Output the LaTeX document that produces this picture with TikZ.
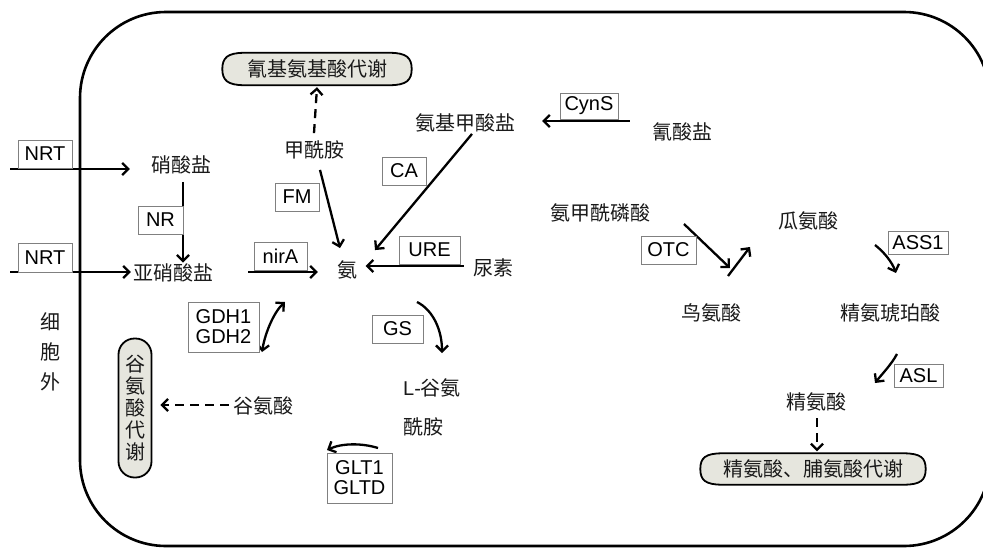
\documentclass[tikz,border=0pt]{standalone}
\usepackage{fontspec}
\setmainfont{Noto Sans CJK SC}
\newfontfamily\lat{Liberation Sans}
\usetikzlibrary{arrows.meta}
\definecolor{pillfill}{HTML}{E6E6DE}
\definecolor{boxline}{HTML}{808080}
\definecolor{txtcol}{HTML}{1A1A1A}
\begin{document}
\begin{tikzpicture}[x=1pt,y=-1pt,
  txt/.style={font=\fontsize{20}{22}\selectfont, inner sep=0pt, text=txtcol},
  enz/.style={draw=boxline, line width=0.9pt, fill=white, inner sep=0pt, align=center,
    font=\lat\fontsize{20}{22}\selectfont},
  pillbox/.style={inner sep=0pt},
  pillline/.style={draw=black, line width=1.8pt, fill=pillfill},
  vpill/.style={rectangle, rounded corners=16pt, draw=black, line width=1.8pt,
    fill=pillfill, inner sep=0pt, align=center, font=\fontsize{20}{22}\selectfont, text=txtcol},
  tip/.tip={Straight Barb[length=6pt,width=12pt]},
  arr/.style={line width=2.3pt, -tip},
  darr/.style={line width=2.3pt, tip-tip},
  dasharr/.style={line width=2.3pt, dash pattern=on 9pt off 6pt, -tip}
]
\useasboundingbox (0,0) rectangle (983,549);
\clip (0,0) rectangle (983,549);
\fill[white] (0,0) rectangle (983,549);

% cell outline
\draw[line width=2.6pt, rounded corners=86pt] (80,12) rectangle (990,546);

% text nodes
\node[txt] (nitrate) at (181,165) {硝酸盐};
\node[txt] (nitrite) at (173,273) {亚硝酸盐};
\node[txt] (amm) at (347,270) {氨};
\node[txt] (formamide) at (314,150) {甲酰胺};
\node[txt] (carbamate) at (465,123) {氨基甲酸盐};
\node[txt] (cyanate) at (682,132) {氰酸盐};
\node[txt] (urea) at (493,268) {尿素};
\node[txt] (glu) at (263,406) {谷氨酸};
\node[txt, align=left, anchor=west, font=\fontsize{20}{39}\selectfont] (gln) at (403,407) {{\lat L-}谷氨\\酰胺};
\node[txt, align=center, font=\fontsize{20}{30}\selectfont] (extra) at (50,352) {细\\胞\\外};
\node[txt] (cp) at (600,213) {氨甲酰磷酸};
\node[txt] (cit) at (808,221) {瓜氨酸};
\node[txt] (orn) at (711,313) {鸟氨酸};
\node[txt] (argsuc) at (890,313) {精氨琥珀酸};
\node[txt] (arg) at (816,402) {精氨酸};

% metabolism pills
\node[pillbox, minimum width=189pt, minimum height=32pt] (cyanM) at (317,69) {};
\path[pillline] (cyanM.west) .. controls ([yshift=11pt]cyanM.west) and ([xshift=5pt]cyanM.north west) .. ([xshift=22pt]cyanM.north west)
  -- ([xshift=-22pt]cyanM.north east) .. controls ([xshift=-5pt]cyanM.north east) and ([yshift=11pt]cyanM.east) .. (cyanM.east)
  .. controls ([yshift=-11pt]cyanM.east) and ([xshift=-5pt]cyanM.south east) .. ([xshift=-22pt]cyanM.south east)
  -- ([xshift=22pt]cyanM.south west) .. controls ([xshift=5pt]cyanM.south west) and ([yshift=-11pt]cyanM.west) .. cycle;
\node[txt] (cyanMt) at (cyanM) {氰基氨基酸代谢};

\node[pillbox, minimum width=225pt, minimum height=31pt] (argM) at (813,469) {};
\path[pillline] (argM.west) .. controls ([yshift=11pt]argM.west) and ([xshift=5pt]argM.north west) .. ([xshift=22pt]argM.north west)
  -- ([xshift=-22pt]argM.north east) .. controls ([xshift=-5pt]argM.north east) and ([yshift=11pt]argM.east) .. (argM.east)
  .. controls ([yshift=-11pt]argM.east) and ([xshift=-5pt]argM.south east) .. ([xshift=-22pt]argM.south east)
  -- ([xshift=22pt]argM.south west) .. controls ([xshift=5pt]argM.south west) and ([yshift=-11pt]argM.west) .. cycle;
\node[txt] (argMt) at (argM) {精氨酸、脯氨酸代谢};

\node[vpill, minimum width=33pt, minimum height=139pt] (gluM) at (135,408) {谷\\氨\\酸\\代\\谢};

% arrows
\coordinate (in1) at (10,169);
\coordinate (in2) at (10,272);
\draw[arr] (in1) -- ([xshift=-21pt]nitrate.west |- in1);
\draw[arr] (in2) -- ([xshift=-2pt]nitrite.west |- in2);
\draw[arr] ([xshift=2pt,yshift=-7.5pt]nitrate.south) -- ([xshift=10pt,yshift=1pt]nitrite.north);
\draw[arr] ([xshift=35pt]nitrite.east |- 0,272) -- ([xshift=-19pt]amm.west |- 0,272);
\draw[arr] ([xshift=6pt,yshift=-10.5pt]formamide.south) -- ([xshift=-7pt,yshift=12.5pt]amm.north);
\draw[dasharr] ([yshift=7.5pt]formamide.north) -- ([yshift=-2pt]cyanM.south);
\draw[arr] ([xshift=7pt,yshift=-1.5pt]carbamate.south) -- ([xshift=28pt,yshift=10.5pt]amm.north);
\draw[arr] ([xshift=-22pt]cyanate.west |- 0,121) -- ([xshift=27pt]carbamate.east |- 0,121);
\draw[arr] ([xshift=-9pt]urea.west |- 0,266) -- ([xshift=8.5pt]amm.east |- 0,266);

\coordinate (gdhA) at (262,352);
\coordinate (gdhB) at (285,302);
\draw[darr] (gdhA) .. controls (265,333) and (274,312) .. (gdhB);
\coordinate (gsA) at (417,302);
\coordinate (gsB) at (442,353);
\draw[arr] (gsA) .. controls (433,310) and (442,330) .. (gsB);
\coordinate (gltA) at (378,448);
\coordinate (gltB) at (327,450);
\draw[arr] (gltA) .. controls (362,443) and (342,443) .. (gltB);
\draw[dasharr] ([xshift=-4pt]glu.west |- 0,405) -- ([xshift=8pt]gluM.east |- 0,405);

\coordinate (otcA) at (684,224);
\coordinate (otcB) at (730,268);
\coordinate (otcC) at (728,276);
\coordinate (otcD) at (750,247);
\draw[arr] (otcA) -- (otcB);
\draw[arr] (otcC) -- (otcD);
\coordinate (assA) at (875,245);
\coordinate (assB) at (896,273);
\draw[arr] (assA) .. controls (884,252) and (892,262) .. (assB);
\coordinate (aslA) at (897,354);
\coordinate (aslB) at (875,383);
\draw[arr] (aslA) .. controls (891,365) and (882,374) .. (aslB);
\draw[dasharr] ([xshift=1pt,yshift=-7pt]arg.south) -- ([xshift=4pt,yshift=2pt]argM.north);

% enzyme boxes
\node[enz, minimum width=54pt, minimum height=28pt] (nrt1) at (45,154) {NRT};
\node[enz, minimum width=45pt, minimum height=28pt] (nr) at (160.5,220) {NR};
\node[enz, minimum width=54pt, minimum height=29pt] (nrt2) at (45,257.5) {NRT};
\node[enz, minimum width=53pt, minimum height=28pt] (nira) at (280.5,256) {nirA};
\node[enz, minimum width=44pt, minimum height=28pt] (fm) at (297,197) {FM};
\node[enz, minimum width=44pt, minimum height=28pt] (ca) at (404,171) {CA};
\node[enz, minimum width=58pt, minimum height=26pt] (cyns) at (589,106) {CynS};
\node[enz, minimum width=61pt, minimum height=28pt] (ure) at (429.5,250) {URE};
\node[enz, minimum width=71pt, minimum height=50pt] (gdh) at (223.5,327) {GDH1\\[-2pt]GDH2};
\node[enz, minimum width=51pt, minimum height=28pt] (gs) at (397.5,329) {GS};
\node[enz, minimum width=65pt, minimum height=50pt] (glt) at (359.5,478) {GLT1\\[-2pt]GLTD};
\node[enz, minimum width=55pt, minimum height=28pt] (otc) at (668.5,250) {OTC};
\node[enz, minimum width=60pt, minimum height=23pt] (ass1) at (918,242.5) {ASS1};
\node[enz, minimum width=49pt, minimum height=23pt] (asl) at (918.5,375.5) {ASL};
\end{tikzpicture}
\end{document}
